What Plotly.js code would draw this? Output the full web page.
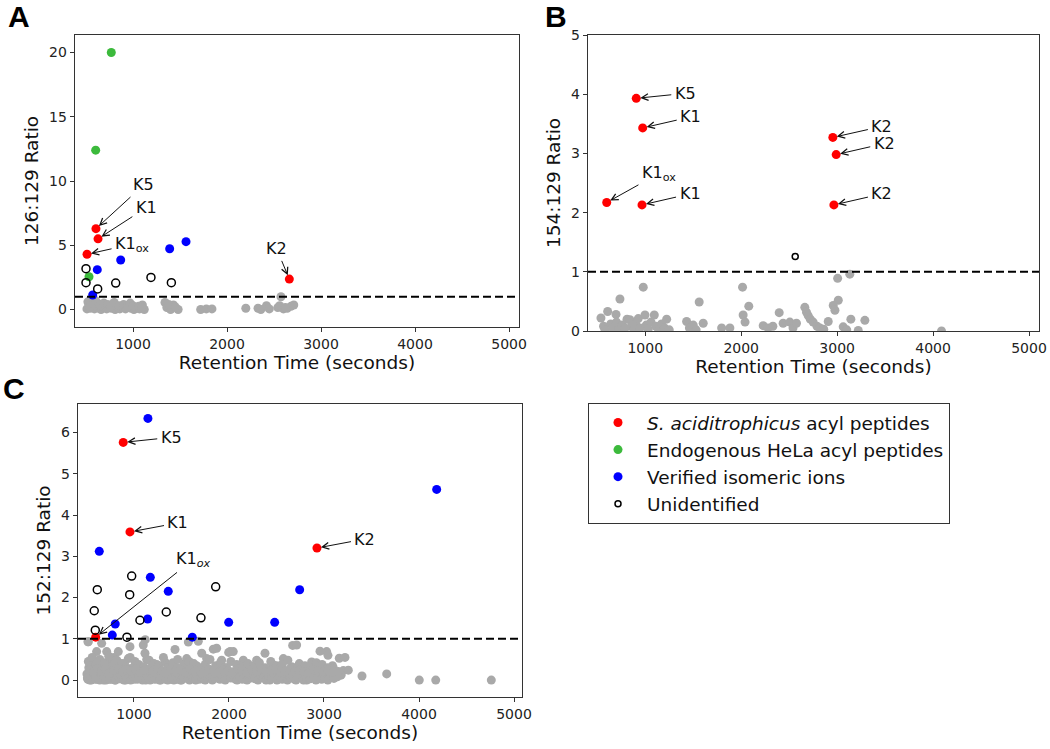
<!DOCTYPE html>
<html>
<head>
<meta charset="utf-8">
<script src="https://cdn.plot.ly/plotly-3.0.1.min.js"></script>
<style>html,body{margin:0;padding:0;background:#fff;}#chart{width:1050px;height:749px;}</style>
</head>
<body>
<div id="chart"></div>
<script>
// ---------------- Panel A : 126:129 ratio ----------------
const greyA_x = [510,530,545,560,575,590,610,625,640,660,680,700,720,745,770,790,810,830,860,890,920,950,980,1010,1040,1070,1100,1120,1340,1360,1400,1430,1480,1720,1780,1840,2200,2330,2360,2420,2450,2540,2574,2600,2640,2680,2710,
  520,550,580,600,650,690,730,760,800,850,900,940,970,1000,1060,1090,1380,1450,2560,2620];
const greyA_y = [0.05,0.4,0.1,0.6,0.2,0.05,0.3,0.5,0.1,0.0,0.35,0.15,0.05,0.25,0.1,0.45,0.0,0.2,0.05,0.15,0.05,0.3,0.1,0.0,0.1,0.05,0.35,0.0,0.55,0.15,0.0,0.35,0.0,0.0,0.05,0.05,0.1,0.1,0.0,0.3,0.05,0.15,0.99,0.05,0.1,0.25,0.35,
  0.6,0.25,0.45,0.7,0.3,0.5,0.4,0.2,0.55,0.3,0.4,0.2,0.5,0.3,0.25,0.15,0.4,0.2,0.3,0.15];
const redA_x = [606,628,511,2663];
const redA_y = [6.29,5.5,4.3,2.37];
const greenA_x = [769,603,532];
const greenA_y = [20.0,12.4,2.55];
const blueA_x = [620,869,1390,1564,571];
const blueA_y = [3.1,3.85,4.73,5.28,1.13];
const openA_x = [500,500,624,816,1191,1408];
const openA_y = [3.18,2.09,1.6,2.06,2.5,2.09];
const labelsA = ["K5","K1","K1<sub>ox</sub>","K2"];

// ---------------- Panel B : 154:129 ratio ----------------
const greyB_x = [538,565,580,608,640,660,695,700,736,720,760,790,810,840,860,880,900,927,945,979,997,1010,1030,1060,1094,1110,1140,1170,1200,1223,1250,1431,1460,1500,1530,1562,1604,1796,1882,2014,2020,2040,2079,2229,2280,2330,2396,2437,2507,2540,2576,2663,2680,2698,2720,2750,2790,2820,2860,2907,2959,2977,3005,3012,3063,3100,3132,3143,3220,3289,4088];
const greyB_y = [0.22,0.08,0.02,0.33,0.12,0.05,0.28,0.15,0.54,0.02,0.10,0.05,0.2,0.19,0.08,0.02,0.12,0.21,0.05,0.74,0.27,0.10,0.03,0.15,0.27,0.08,0.02,0.12,0.05,0.20,0.02,0.16,0.05,0.10,0.02,0.49,0.13,0.05,0.05,0.74,0.27,0.15,0.42,0.09,0.05,0.08,0.31,0.13,0.15,0.05,0.13,0.40,0.32,0.26,0.2,0.15,0.08,0.05,0.03,0.16,0.43,0.35,0.89,0.52,0.07,0.02,0.96,0.20,0.01,0.18,0.0];
const redB_x = [906,973,598,966,2955,2990,2966];
const redB_y = [3.93,3.43,2.17,2.13,3.27,2.98,2.13];
const openB_x = [2563];
const openB_y = [1.26];
const labelsB = ["K5","K1","K1<sub>ox</sub>","K1","K2","K2","K2"];

// ---------------- Panel C : 152:129 ratio ----------------
const greyC_x = [
 505,515,519,525,530,537,545,550,560,570,
 580,590,600,607,615,625,635,645,655,660,
 670,680,690,700,713,720,730,740,750,760,
 770,780,790,800,812,825,835,845,855,865,
 875,885,900,912,925,940,950,958,970,985,
 1000,1015,1030,1045,1060,1075,1090,1098,1116,1134,
 1150,1165,1180,1200,1220,1240,1260,1280,1300,1326,
 1345,1365,1385,1405,1432,1450,1470,1490,1510,1530,
 1555,1572,1595,1615,1640,1660,1677,1713,1735,1765,
 1790,1815,1835,1870,1895,1923,1950,1975,1997,2011,
 2030,2045,2070,2100,2125,2151,2175,2200,2230,2260,
 2291,2320,2350,2379,2400,2430,2460,2490,2520,2550,
 2572,2600,2630,2660,2670,2690,2712,2740,2770,2800,
 2818,2840,2870,2900,2930,2958,2990,3028,3042,3063,
 3090,3120,3161,3180,3203,3221,3256,3400,3660,4003,
 4176,4761,516,1119,
 510,535,555,575,595,620,640,665,685,705,
 725,745,765,785,805,830,850,870,895,920,
 945,965,990,1010,1035,1055,1080,1105,1125,1145,
 1170,1190,1210,1230,1250,1270,1290,1315,1335,1355,
 1375,1395,1420,1440,1460,1480,1500,1520,1545,1565,
 1585,1605,1625,1650,1670,1690,1705,1725,1750,1775,
 1800,1825,1850,1880,1905,1930,1960,1985,2020,2055,
 2085,2115,2140,2165,2190,2215,2245,2275,2305,2335,
 2365,2390,2415,2445,2475,2505,2535,2560,2590,2615,
 2645,2675,2705,2730,2755,2785,2810,2855,2885,2915,
 2945,2975,3005,3040,3075,3105,3140,
 520,560,600,640,690,735,780,820,870,915,
 960,1010,1050,1100,1160,1210,1260,1310,1360,1410,
 1460,1520,1580,1630,1690,1750,1800,1860,1910,1960,
 2020,2080,2140,2200,2260,2320,2380,2440,2500,2560,
 2620,2680,2740,2800,2860,2920,2980,3040,3100,
 530,575,615,660,700,745,790,835,880,925,
 970,1020,1065,1110,1155,1200,1250,1295,1340,1390,
 1440,1490,1540,1590,1640,1690,1740,1790,1840,1890,
 1940,1990,2040,2090,2140,2190,2240,2290,2340,2390,
 2440,2490,2540,2590,2640,2690,2740,2790,2840,2890,
 2940,2990,3040,3090,3150];
const greyC_y = [
 0.15,0.02,0.93,0.30,0.08,0.44,0.20,0.00,0.12,0.35,
 0.05,0.22,0.10,0.69,0.02,0.40,0.15,0.28,0.05,0.89,
 0.18,0.00,0.32,0.10,0.69,0.25,0.05,0.45,0.15,0.02,
 0.30,0.12,0.55,0.00,0.20,0.08,0.69,0.35,0.15,0.03,
 0.25,0.10,0.40,0.00,0.18,0.52,0.05,0.81,0.28,0.12,
 0.02,0.35,0.15,0.05,0.25,0.10,0.00,0.85,0.65,0.50,
 0.20,0.05,0.30,0.12,0.02,0.38,0.15,0.00,0.22,0.44,
 0.08,0.25,0.02,0.15,0.74,0.30,0.10,0.00,0.20,0.40,
 0.52,0.92,0.05,0.28,0.12,0.35,0.94,0.65,0.02,0.52,
 0.18,0.08,0.75,0.77,0.25,0.48,0.05,0.30,0.67,0.69,
 0.12,0.69,0.02,0.22,0.35,0.48,0.10,0.28,0.05,0.18,
 0.48,0.08,0.30,0.65,0.15,0.00,0.38,0.12,0.25,0.05,
 0.52,0.20,0.10,0.32,0.84,0.02,0.85,0.15,0.28,0.08,
 0.00,0.22,0.44,0.10,0.30,0.70,0.05,0.69,0.60,0.16,
 0.35,0.08,0.53,0.12,0.23,0.55,0.24,0.10,0.15,0.00,
 0.00,0.00,0.93,0.98,
 0.05,0.00,0.10,0.18,0.02,0.08,0.00,0.12,0.06,0.00,
 0.10,0.02,0.15,0.05,0.00,0.12,0.03,0.08,0.00,0.06,
 0.12,0.00,0.08,0.15,0.02,0.10,0.18,0.04,0.00,0.10,
 0.00,0.06,0.15,0.03,0.10,0.00,0.08,0.12,0.02,0.00,
 0.10,0.05,0.00,0.14,0.02,0.08,0.00,0.06,0.12,0.03,
 0.00,0.10,0.05,0.00,0.12,0.02,0.08,0.15,0.00,0.06,
 0.10,0.00,0.04,0.12,0.02,0.08,0.00,0.14,0.05,0.10,
 0.00,0.08,0.02,0.12,0.00,0.06,0.10,0.03,0.00,0.12,
 0.05,0.00,0.10,0.04,0.14,0.00,0.08,0.02,0.12,0.00,
 0.06,0.10,0.00,0.05,0.12,0.00,0.08,0.03,0.14,0.00,
 0.10,0.02,0.06,0.00,0.12,0.04,0.08,
 0.45,0.55,0.38,0.50,0.42,0.58,0.35,0.48,0.40,0.30,
 0.55,0.45,0.38,0.32,0.48,0.40,0.35,0.55,0.30,0.42,
 0.50,0.35,0.45,0.40,0.30,0.38,0.50,0.35,0.42,0.30,
 0.45,0.38,0.32,0.40,0.35,0.42,0.30,0.45,0.35,0.38,
 0.48,0.30,0.40,0.35,0.32,0.42,0.38,0.30,0.28,
 0.25,0.20,0.28,0.22,0.26,0.18,0.24,0.28,0.20,0.25,
 0.22,0.27,0.19,0.24,0.26,0.21,0.28,0.23,0.20,0.26,
 0.22,0.25,0.18,0.27,0.21,0.24,0.20,0.26,0.22,0.19,
 0.25,0.23,0.20,0.27,0.22,0.18,0.24,0.21,0.26,0.20,
 0.23,0.25,0.19,0.22,0.27,0.20,0.24,0.21,0.18,0.25,
 0.22,0.20,0.24,0.19,0.21];
const redC_x = [887,958,2926,597];
const redC_y = [5.76,3.59,3.20,1.04];
const blueC_x = [1147,4186,635,1172,1361,2744,1144,803,1997,2481,772,1614];
const blueC_y = [6.34,4.62,3.12,2.49,2.15,2.19,1.48,1.36,1.40,1.40,1.09,1.04];
const openC_x = [614,582,593,976,955,1063,1340,1705,1860,926];
const openC_y = [2.19,1.68,1.21,2.52,2.07,1.45,1.65,1.51,2.26,1.04];
const labelsC = ["K5","K1","K2","K1<sub><i>ox</i></sub>"];

const legendNames = ["<i>S. aciditrophicus</i> acyl peptides","Endogenous HeLa acyl peptides","Verified isomeric ions","Unidentified"];
const panelLetters = ["A","B","C"];
const yTitles = ["126:129 Ratio","154:129 Ratio","152:129 Ratio"];
const xTitle = "Retention Time (seconds)";

// ---------------- styling ----------------
const GREY = "#a9a9a9", RED = "#ff0000", GREEN = "#3cba3c", BLUE = "#0000ff";
const MS = 9;

function filled(x, y, color, xa, ya, name, show, rank) {
  return {type:"scatter", mode:"markers", x:x, y:y, xaxis:xa, yaxis:ya, name:name||"",
    showlegend:!!show, legendrank:rank||1000, hoverinfo:"skip",
    marker:{color:color, size:MS, line:{width:0}}};
}
function open(x, y, xa, ya, size, show) {
  return {type:"scatter", mode:"markers", x:x, y:y, xaxis:xa, yaxis:ya, name:legendNames[3],
    showlegend:!!show, legendrank:4, hoverinfo:"skip",
    marker:{symbol:"circle-open", color:"#000", size:size, line:{width:1.5, color:"#000"}}};
}

const data = [
  filled(greyA_x, greyA_y, GREY, "x", "y"),
  filled(redA_x, redA_y, RED, "x", "y"),
  filled(greenA_x, greenA_y, GREEN, "x", "y", legendNames[1], true, 2),
  filled(blueA_x, blueA_y, BLUE, "x", "y"),
  open(openA_x, openA_y, "x", "y", 8, false),

  filled(greyB_x, greyB_y, GREY, "x2", "y2"),
  filled(redB_x, redB_y, RED, "x2", "y2"),
  open(openB_x, openB_y, "x2", "y2", 6, true),

  filled(greyC_x, greyC_y, GREY, "x3", "y3"),
  filled(redC_x, redC_y, RED, "x3", "y3", legendNames[0], true, 1),
  filled(blueC_x, blueC_y, BLUE, "x3", "y3", legendNames[2], true, 3),
  open(openC_x, openC_y, "x3", "y3", 8, false)
];

const tickfont = {size:14, color:"#222", family:"DejaVu Sans"};
const titlefont = {size:18.5, color:"#111", family:"DejaVu Sans"};
function xax(domain, range, anchor) {
  return {domain:domain, range:range, anchor:anchor, tickvals:[1000,2000,3000,4000,5000],
    ticks:"outside", ticklen:4, tickwidth:1, tickcolor:"#333", showline:true, mirror:true,
    linecolor:"#333", linewidth:1.3, showgrid:false, zeroline:false, tickfont:tickfont,
    title:{text:xTitle, font:titlefont, standoff:5}};
}
function yax(domain, range, anchor, vals, title) {
  return {domain:domain, range:range, anchor:anchor, tickvals:vals,
    ticks:"outside", ticklen:4, tickwidth:1, tickcolor:"#333", showline:true, mirror:true,
    linecolor:"#333", linewidth:1.3, showgrid:false, zeroline:false, tickfont:tickfont,
    title:{text:title, font:titlefont, standoff:5}};
}

function ann(xref, yref, x, y, text, ax, ay) {
  return {xref:xref, yref:yref, x:x, y:y, text:text, ax:ax, ay:ay, showarrow:true,
    arrowhead:5, arrowsize:1.3, arrowwidth:1, arrowcolor:"#111",
    font:{size:16, color:"#111", family:"DejaVu Sans"}, standoff:4, startstandoff:2};
}

const annotations = [
  ann("x","y", redA_x[0], redA_y[0], labelsA[0], 48, -44),
  ann("x","y", redA_x[1], redA_y[1], labelsA[1], 48, -31),
  ann("x","y", redA_x[2], redA_y[2], labelsA[2], 45, -10),
  ann("x","y", redA_x[3], redA_y[3], labelsA[3], -13, -31),
  ann("x2","y2", redB_x[0], redB_y[0], labelsB[0], 49, -5),
  ann("x2","y2", redB_x[1], redB_y[1], labelsB[1], 48, -11),
  ann("x2","y2", redB_x[2], redB_y[2], labelsB[2], 52, -29),
  ann("x2","y2", redB_x[3], redB_y[3], labelsB[3], 48, -11),
  ann("x2","y2", redB_x[4], redB_y[4], labelsB[4], 49, -11),
  ann("x2","y2", redB_x[5], redB_y[5], labelsB[5], 48, -11),
  ann("x2","y2", redB_x[6], redB_y[6], labelsB[6], 48, -11),
  ann("x3","y3", redC_x[0], redC_y[0], labelsC[0], 48, -5),
  ann("x3","y3", redC_x[1], redC_y[1], labelsC[1], 48, -9),
  ann("x3","y3", redC_x[2], redC_y[2], labelsC[2], 48, -9),
  ann("x3","y3", redC_x[3], redC_y[3], labelsC[3], 98, -78)
];
const letterPos = [[19,16],[556,16],[14,388]];
panelLetters.forEach((t,i) => annotations.push({xref:"paper", yref:"paper",
  x:letterPos[i][0]/1050, y:1-letterPos[i][1]/749, xanchor:"center", yanchor:"middle",
  text:"<b>"+t+"</b>", showarrow:false, font:{size:30, color:"#000", family:"Liberation Sans"}}));

function hline(xr, yr) {
  return {type:"line", xref:xr+" domain", yref:yr, x0:0, x1:1, y0:1, y1:1,
    line:{color:"#000", width:2, dash:"8px,4px"}};
}

const layout = {
  width:1050, height:749, margin:{l:0, r:0, t:0, b:0},
  paper_bgcolor:"#fff", plot_bgcolor:"#fff",
  font:{family:"DejaVu Sans", color:"#111"},
  xaxis: xax([75/1050, 519/1050], [383, 5106], "y"),
  yaxis: yax([1-327/749, 1-35/749], [-1.36, 21.36], "x", [0,5,10,15,20], yTitles[0]),
  xaxis2: xax([588/1050, 1039/1050], [403, 5104], "y2"),
  yaxis2: yax([1-331/749, 1-35/749], [0, 5], "x2", [0,1,2,3,4,5], yTitles[1]),
  xaxis3: xax([78/1050, 522/1050], [411, 5084], "y3"),
  yaxis3: yax([1-697/749, 1-404/749], [-0.41, 6.69], "x3", [0,1,2,3,4,5,6], yTitles[2]),
  shapes:[hline("x","y"), hline("x2","y2"), hline("x3","y3")],
  annotations:annotations,
  showlegend:true,
  legend:{x:588/1050, y:1-403/749, xanchor:"left", yanchor:"top", bgcolor:"#fff",
    bordercolor:"#333", borderwidth:1, font:{size:18.5, color:"#111", family:"DejaVu Sans"},
    itemwidth:48, traceorder:"normal"}
};

Plotly.newPlot("chart", data, layout, {staticPlot:true, displayModeBar:false});
</script>
</body>
</html>
